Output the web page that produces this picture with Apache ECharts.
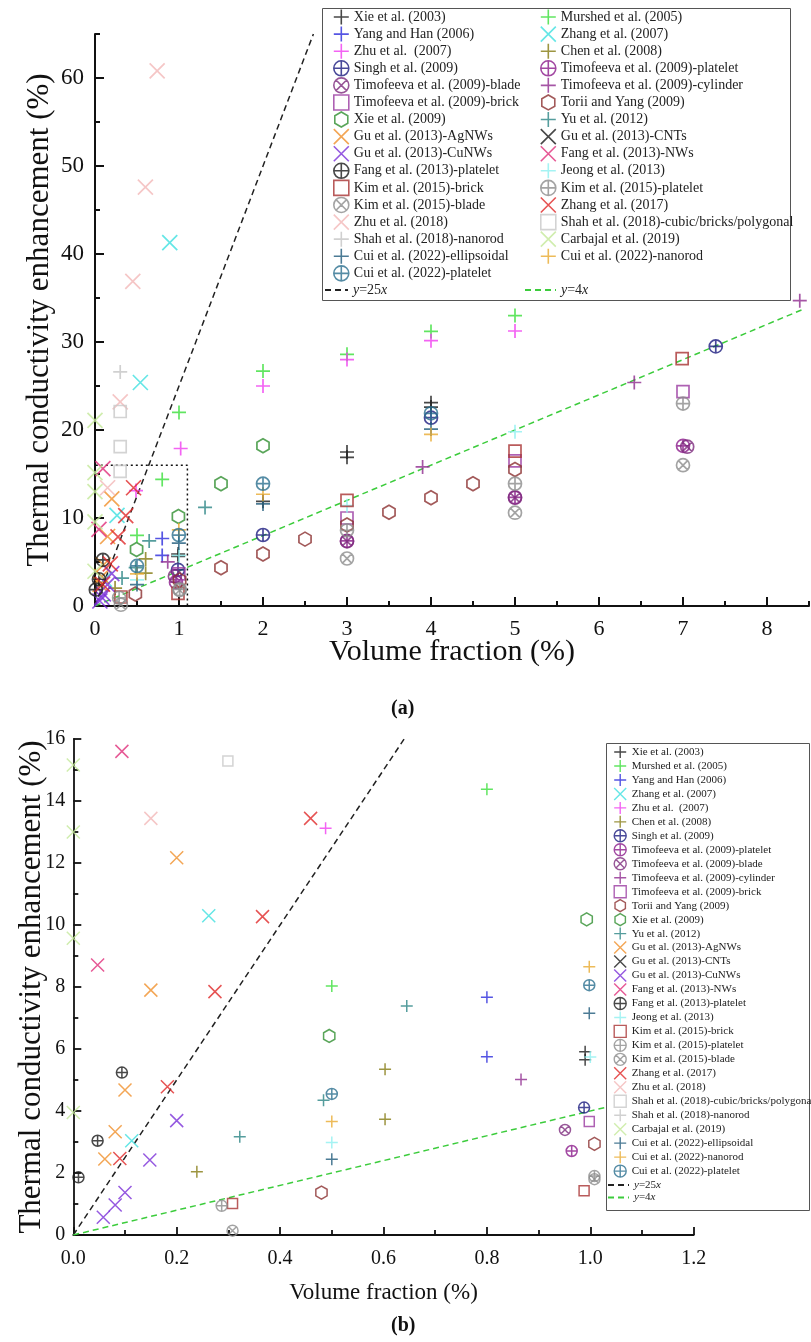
<!DOCTYPE html>
<html><head><meta charset="utf-8">
<script src="https://cdn.jsdelivr.net/npm/echarts@6/dist/echarts.min.js"></script>
<style>html,body{margin:0;padding:0;background:#fff}#c{width:811px;height:1342px}</style>
</head><body><div id="c"></div>
<script>
// ---------- data (volume fraction %, enhancement %) ----------
const xie2003   = [[0.99,5.91],[0.99,5.65],[2,11.9],[3,17.5],[3,16.9],[4,23.1],[4,22.6]];
const murshed   = [[0.5,8.03],[0.8,14.38],[1,22.0],[2,26.7],[3,28.6],[4,31.2],[5,33.0]];
const yangHan   = [[0.8,7.67],[0.8,5.75]];
const zhang2007 = [[0.113,3.04],[0.262,10.3],[0.54,25.4],[0.89,41.3]];
const zhu2007   = [[0.488,13.12],[1.02,17.9],[2,25.0],[3,28.0],[4,30.15],[5,31.25]];
const chen2008  = [[0.239,2.04],[0.603,5.35],[0.603,3.73]];
const singh     = [[0.988,4.11],[2,8.07],[4,21.4],[7.39,29.5]];
const timPlat   = [[0.964,2.71],[3,7.4],[5,12.35],[7,18.2]];
const timBlade  = [[0.951,3.39],[3,7.35],[5,12.3],[7.05,18.1]];
const timCyl    = [[0.866,5.02],[3.9,15.8],[6.42,25.4],[8.39,34.7]];
const timBrick  = [[0.998,3.66],[3,10.0],[5,16.5],[7,24.35]];
const torii     = [[0.48,1.37],[1.008,2.94],[1.5,4.35],[2,5.9],[2.5,7.6],[3,9.2],[3.5,10.65],[4,12.3],[4.5,13.9],[5,15.5]];
const xie2009   = [[0.495,6.42],[0.993,10.18],[1.5,13.9],[2,18.2]];
const yu2012    = [[0.322,3.17],[0.484,4.35],[0.645,7.39],[1.31,11.2]];
const guAg      = [[0.061,2.45],[0.081,3.33],[0.1,4.68],[0.15,7.9],[0.2,12.17]];
const guCNT     = [];
const guCu      = [[0.058,0.57],[0.081,0.97],[0.1,1.37],[0.148,2.42],[0.2,3.69]];
const fangNW    = [[0.047,8.71],[0.094,15.6]];
const fangPlat  = [[0.01,1.86],[0.047,3.04],[0.094,5.24]];
const jeong     = [[0.5,2.98],[1.0,5.74],[3,11.4],[5,19.8]];
const kimBrick  = [[0.308,1.02],[0.988,1.43],[3,12.0],[5,17.6],[6.99,28.1]];
const kimPlat   = [[0.287,0.94],[1.008,1.9],[3,8.6],[5,13.9],[7,23.0]];
const kimBlade  = [[0.308,0.14],[1.008,1.8],[3,5.4],[5,10.6],[7,16.0]];
const zhang2017 = [[0.09,2.47],[0.182,4.78],[0.274,7.85],[0.366,10.27],[0.459,13.44]];
const zhu2018   = [[0.15,13.44],[0.3,23.2],[0.45,36.9],[0.6,47.6],[0.74,60.8]];
const shahCubic = [[0.299,15.29],[0.3,18.1],[0.3,22.1]];
const shahRod   = [[0.3,26.6]];
const carbajal  = [[0,3.95],[0,9.57],[0,13.0],[0,15.16],[0,21.1]];
const cuiEll    = [[0.5,2.44],[0.998,7.15],[2,11.6],[4,20.1]];
const cuiRod    = [[0.5,3.66],[0.998,8.65],[2,12.7],[4,19.5]];
const cuiPlat   = [[0.5,4.55],[0.998,8.06],[2,13.9],[4,21.9]];

// reference lines y = 25x and y = 4x (end points) and zoom box of panel (a)
const line25a = [[0,0],[2.6,65]];
const line4a  = [[0,0],[8.45,33.8]];
const line25b = [[0,0],[0.64,16]];
const line4b  = [[0,0],[1.2,4.8]];
const zoomBox = [[-0.1,0],[-0.1,16],[1.1,16],[1.1,0]];

// tick labels
const xTicksA = [0,1,2,3,4,5,6,7,8];
const yTicksA = [0,10,20,30,40,50,60];
const xTicksB = [0,0.2,0.4,0.6,0.8,1.0,1.2];
const yTicksB = [0,2,4,6,8,10,12,14,16];

// ---------- styles ----------
const SYM = {
  plus:   'path://M5,0L5,10M0,5L10,5',
  cross:  'path://M0,0L10,10M0,10L10,0',
  oplus:  'path://M0,5A5,5,0,1,0,10,5A5,5,0,1,0,0,5ZM5,0L5,10M0,5L10,5',
  otimes: 'path://M0,5A5,5,0,1,0,10,5A5,5,0,1,0,0,5ZM1.46,1.46L8.54,8.54M1.46,8.54L8.54,1.46',
  square: 'path://M0,0L10,0L10,10L0,10Z',
  hex:    'path://M5,0L9.33,2.5L9.33,7.5L5,10L0.67,7.5L0.67,2.5Z'
};
const SIZE = [
  {plus:14, cross:15, oplus:13, otimes:13, square:12, hex:14},
  {plus:12, cross:13, oplus:11, otimes:11, square:10, hex:13}
];
const studies = [
  ['Xie et al. (2003)', xie2003, '#1a1a1a', 'plus'],
  ['Murshed et al. (2005)', murshed, '#3ade3a', 'plus'],
  ['Yang and Han (2006)', yangHan, '#2b2bdc', 'plus'],
  ['Zhang et al. (2007)', zhang2007, '#3fe0e0', 'cross'],
  ['Zhu et al.  (2007)', zhu2007, '#f03cf0', 'plus'],
  ['Chen et al. (2008)', chen2008, '#857a12', 'plus'],
  ['Singh et al. (2009)', singh, '#1c1c80', 'oplus'],
  ['Timofeeva et al. (2009)-platelet', timPlat, '#8b1a8b', 'oplus'],
  ['Timofeeva et al. (2009)-blade', timBlade, '#7d2a7d', 'otimes'],
  ['Timofeeva et al. (2009)-cylinder', timCyl, '#8e2a8e', 'plus'],
  ['Timofeeva et al. (2009)-brick', timBrick, '#9a3aa0', 'square'],
  ['Torii and Yang (2009)', torii, '#8b3030', 'hex'],
  ['Xie et al. (2009)', xie2009, '#2f8f2f', 'hex'],
  ['Yu et al. (2012)', yu2012, '#2a8585', 'plus'],
  ['Gu et al. (2013)-AgNWs', guAg, '#f0902a', 'cross'],
  ['Gu et al. (2013)-CNTs', guCNT, '#1a1a1a', 'cross'],
  ['Gu et al. (2013)-CuNWs', guCu, '#7a30d8', 'cross'],
  ['Fang et al. (2013)-NWs', fangNW, '#e0307a', 'cross'],
  ['Fang et al. (2013)-platelet', fangPlat, '#1a1a1a', 'oplus'],
  ['Jeong et al. (2013)', jeong, '#8ef0f0', 'plus'],
  ['Kim et al. (2015)-brick', kimBrick, '#a83232', 'square'],
  ['Kim et al. (2015)-platelet', kimPlat, '#8c8c8c', 'oplus'],
  ['Kim et al. (2015)-blade', kimBlade, '#8c8c8c', 'otimes'],
  ['Zhang et al. (2017)', zhang2017, '#e02828', 'cross'],
  ['Zhu et al. (2018)', zhu2018, '#f2b8b8', 'cross'],
  ['Shah et al. (2018)-cubic/bricks/polygonal', shahCubic, '#c8c8c8', 'square'],
  ['Shah et al. (2018)-nanorod', shahRod, '#c4c4c4', 'plus'],
  ['Carbajal et al. (2019)', carbajal, '#c4e89a', 'cross'],
  ['Cui et al. (2022)-ellipsoidal', cuiEll, '#1f5a7a', 'plus'],
  ['Cui et al. (2022)-nanorod', cuiRod, '#e8aa30', 'plus'],
  ['Cui et al. (2022)-platelet', cuiPlat, '#2a6f8f', 'oplus']
];

const FONT = "'Liberation Serif','DejaVu Serif',serif";
const series = [];
studies.forEach(function (s) {
  [0, 1].forEach(function (g) {
    series.push({
      type: 'scatter', name: s[0], xAxisIndex: g, yAxisIndex: g, data: s[1],
      symbol: SYM[s[3]], symbolKeepAspect: true, symbolSize: SIZE[g][s[3]],
      itemStyle: {color: 'rgba(0,0,0,0)', borderColor: s[2], borderWidth: g ? 1.5 : 1.7},
      emphasis: {disabled: true}, z: 2
    });
  });
});
function refLine(name, data, g, color) {
  return {type: 'line', name: name, xAxisIndex: g, yAxisIndex: g, data: data, symbol: 'none',
    itemStyle: {color: color}, lineStyle: {color: color, width: 1.5, type: [6, 4]},
    silent: true, z: 1, emphasis: {disabled: true}};
}
series.push(refLine('y=25x', line25a, 0, '#222'));
series.push(refLine('y=4x', line4a, 0, '#3ccc3c'));
series.push(refLine('y=25x', line25b, 1, '#222'));
series.push(refLine('y=4x', line4b, 1, '#3ccc3c'));
series.push({type: 'line', name: 'box', xAxisIndex: 0, yAxisIndex: 0, data: zoomBox, symbol: 'none', clip: false,
  itemStyle: {color: '#111'}, lineStyle: {color: '#111', width: 1.5, type: [2, 3]}, silent: true, z: 1});

const names = studies.map(function (s) { return s[0]; });
const legA1 = names.filter(function (n, i) { return i % 2 === 0; });
const legA2 = names.filter(function (n, i) { return i % 2 === 1; });

function lineFmt(n) { return n === 'y=25x' ? '{i|y}=25{i|x}' : '{i|y}=4{i|x}'; }
function plainText(size) {
  return {fontFamily: FONT, fontSize: size, color: '#222', lineHeight: size + 1};
}
function richText(size) {
  return {fontFamily: FONT, fontSize: size, color: '#222', lineHeight: size + 1,
    rich: {i: {fontFamily: FONT, fontSize: size, fontStyle: 'italic', color: '#222', lineHeight: size + 1}}};
}
const legA = {orient: 'vertical', padding: 0, itemWidth: 15, itemHeight: 15, itemGap: 0.49,
  selectedMode: false, textStyle: plainText(14), itemStyle: {borderWidth: 1.6}};
const legBs = {orient: 'vertical', padding: 0, itemWidth: 13, itemHeight: 12, itemGap: 0.57,
  selectedMode: false, textStyle: plainText(11), itemStyle: {borderWidth: 1.4}};
const hideSym = {color: 'rgba(0,0,0,0)', borderWidth: 0, opacity: 0};

const axisLineA = {show: true, lineStyle: {color: '#111', width: 2}};
const axisLineB = {show: true, lineStyle: {color: '#111', width: 1.8}};
function intLabel(v) { return String(Math.round(v)); }

const option = {
  animation: false,
  backgroundColor: '#fff',
  title: [
    {text: '(a)', left: 391, top: 699, padding: 0, textStyle: {fontFamily: FONT, fontSize: 20, fontWeight: 'bold', color: '#111'}},
    {text: '(b)', left: 391, top: 1316, padding: 0, textStyle: {fontFamily: FONT, fontSize: 20, fontWeight: 'bold', color: '#111'}}
  ],
  grid: [
    {left: 95, top: 34, width: 714, height: 572},
    {left: 73.3, top: 739, width: 620.4, height: 496}
  ],
  xAxis: [
    {type: 'value', gridIndex: 0, min: 0, max: 8.5, interval: 0.5, position: 'bottom',
      name: 'Volume fraction (%)', nameLocation: 'middle', nameGap: 31, nameMoveOverlap: false,
      nameTextStyle: {fontFamily: FONT, fontSize: 30, color: '#111'},
      axisLine: axisLineA, axisTick: {inside: true, length: 5, lineStyle: {width: 2, color: '#111'}},
      axisLabel: {customValues: xTicksA, formatter: intLabel, fontFamily: FONT, fontSize: 22, color: '#111', margin: 12},
      splitLine: {show: false}},
    {type: 'value', gridIndex: 1, min: 0, max: 1.2, interval: 0.2, position: 'bottom',
      name: 'Volume fraction (%)', nameLocation: 'middle', nameGap: 46, nameMoveOverlap: false,
      nameTextStyle: {fontFamily: FONT, fontSize: 23, color: '#111'},
      axisLine: axisLineB, axisTick: {inside: true, length: 8, lineStyle: {width: 1.8, color: '#111'}},
      minorTick: {show: true, splitNumber: 2, length: 5, lineStyle: {width: 1.8, color: '#111'}},
      axisLabel: {customValues: xTicksB, formatter: function (v) { return v.toFixed(1); }, fontFamily: FONT, fontSize: 20, color: '#111', margin: 14},
      splitLine: {show: false}, minorSplitLine: {show: false}},
    {type: 'value', gridIndex: 0, min: 0, max: 8.5, position: 'bottom',
      axisLine: {show: false}, axisLabel: {show: false}, splitLine: {show: false},
      axisTick: {inside: true, length: 9, customValues: xTicksA, lineStyle: {width: 2, color: '#111'}}}
  ],
  yAxis: [
    {type: 'value', gridIndex: 0, min: 0, max: 65, interval: 5, position: 'left',
      name: 'Thermal conductivity enhancement (%)', nameLocation: 'middle', nameGap: 40, nameMoveOverlap: false,
      nameTextStyle: {fontFamily: FONT, fontSize: 31, color: '#111'},
      axisLine: axisLineA, axisTick: {inside: true, length: 5, lineStyle: {width: 2, color: '#111'}},
      axisLabel: {customValues: yTicksA, formatter: intLabel, fontFamily: FONT, fontSize: 23, color: '#111', margin: 11},
      splitLine: {show: false}},
    {type: 'value', gridIndex: 1, min: 0, max: 16, interval: 2, position: 'left',
      name: 'Thermal conductivity enhancement (%)', nameLocation: 'middle', nameGap: 26, nameMoveOverlap: false,
      nameTextStyle: {fontFamily: FONT, fontSize: 31, color: '#111'},
      axisLine: axisLineB, axisTick: {inside: true, length: 8, lineStyle: {width: 1.8, color: '#111'}},
      minorTick: {show: true, splitNumber: 2, length: 5, lineStyle: {width: 1.8, color: '#111'}},
      axisLabel: {customValues: yTicksB, formatter: intLabel, fontFamily: FONT, fontSize: 20, color: '#111', margin: 8},
      splitLine: {show: false}, minorSplitLine: {show: false}},
    {type: 'value', gridIndex: 0, min: 0, max: 65, position: 'left',
      axisLine: {show: false}, axisLabel: {show: false}, splitLine: {show: false},
      axisTick: {inside: true, length: 9, customValues: yTicksA, lineStyle: {width: 2, color: '#111'}}}
  ],
  legend: [
    Object.assign({}, legA, {left: 333, top: 8.7, data: legA1}),
    Object.assign({}, legA, {left: 540, top: 8.7, data: legA2}),
    Object.assign({}, legA, {left: 324, top: 282.5, itemWidth: 23, data: ['y=25x'], formatter: lineFmt, textStyle: richText(14), itemStyle: hideSym}),
    Object.assign({}, legA, {left: 524, top: 282.5, itemWidth: 31, data: ['y=4x'], formatter: lineFmt, textStyle: richText(14), itemStyle: hideSym}),
    Object.assign({}, legBs, {left: 613.5, top: 745.3, data: names}),
    Object.assign({}, legBs, {left: 607, top: 1179, itemWidth: 21, data: ['y=25x', 'y=4x'], formatter: lineFmt, textStyle: richText(11), itemStyle: hideSym})
  ],
  graphic: [
    {type: 'rect', left: 322, top: 8, z: 3, shape: {width: 468, height: 292}, style: {fill: '#fff', stroke: '#555', lineWidth: 1}, silent: true},
    {type: 'rect', left: 606, top: 743, z: 3, shape: {width: 203, height: 467}, style: {fill: '#fff', stroke: '#555', lineWidth: 1}, silent: true}
  ],
  series: series
};

const chart = echarts.init(document.getElementById('c'), null, {renderer: 'canvas'});
chart.setOption(option);
</script>
</body></html>
